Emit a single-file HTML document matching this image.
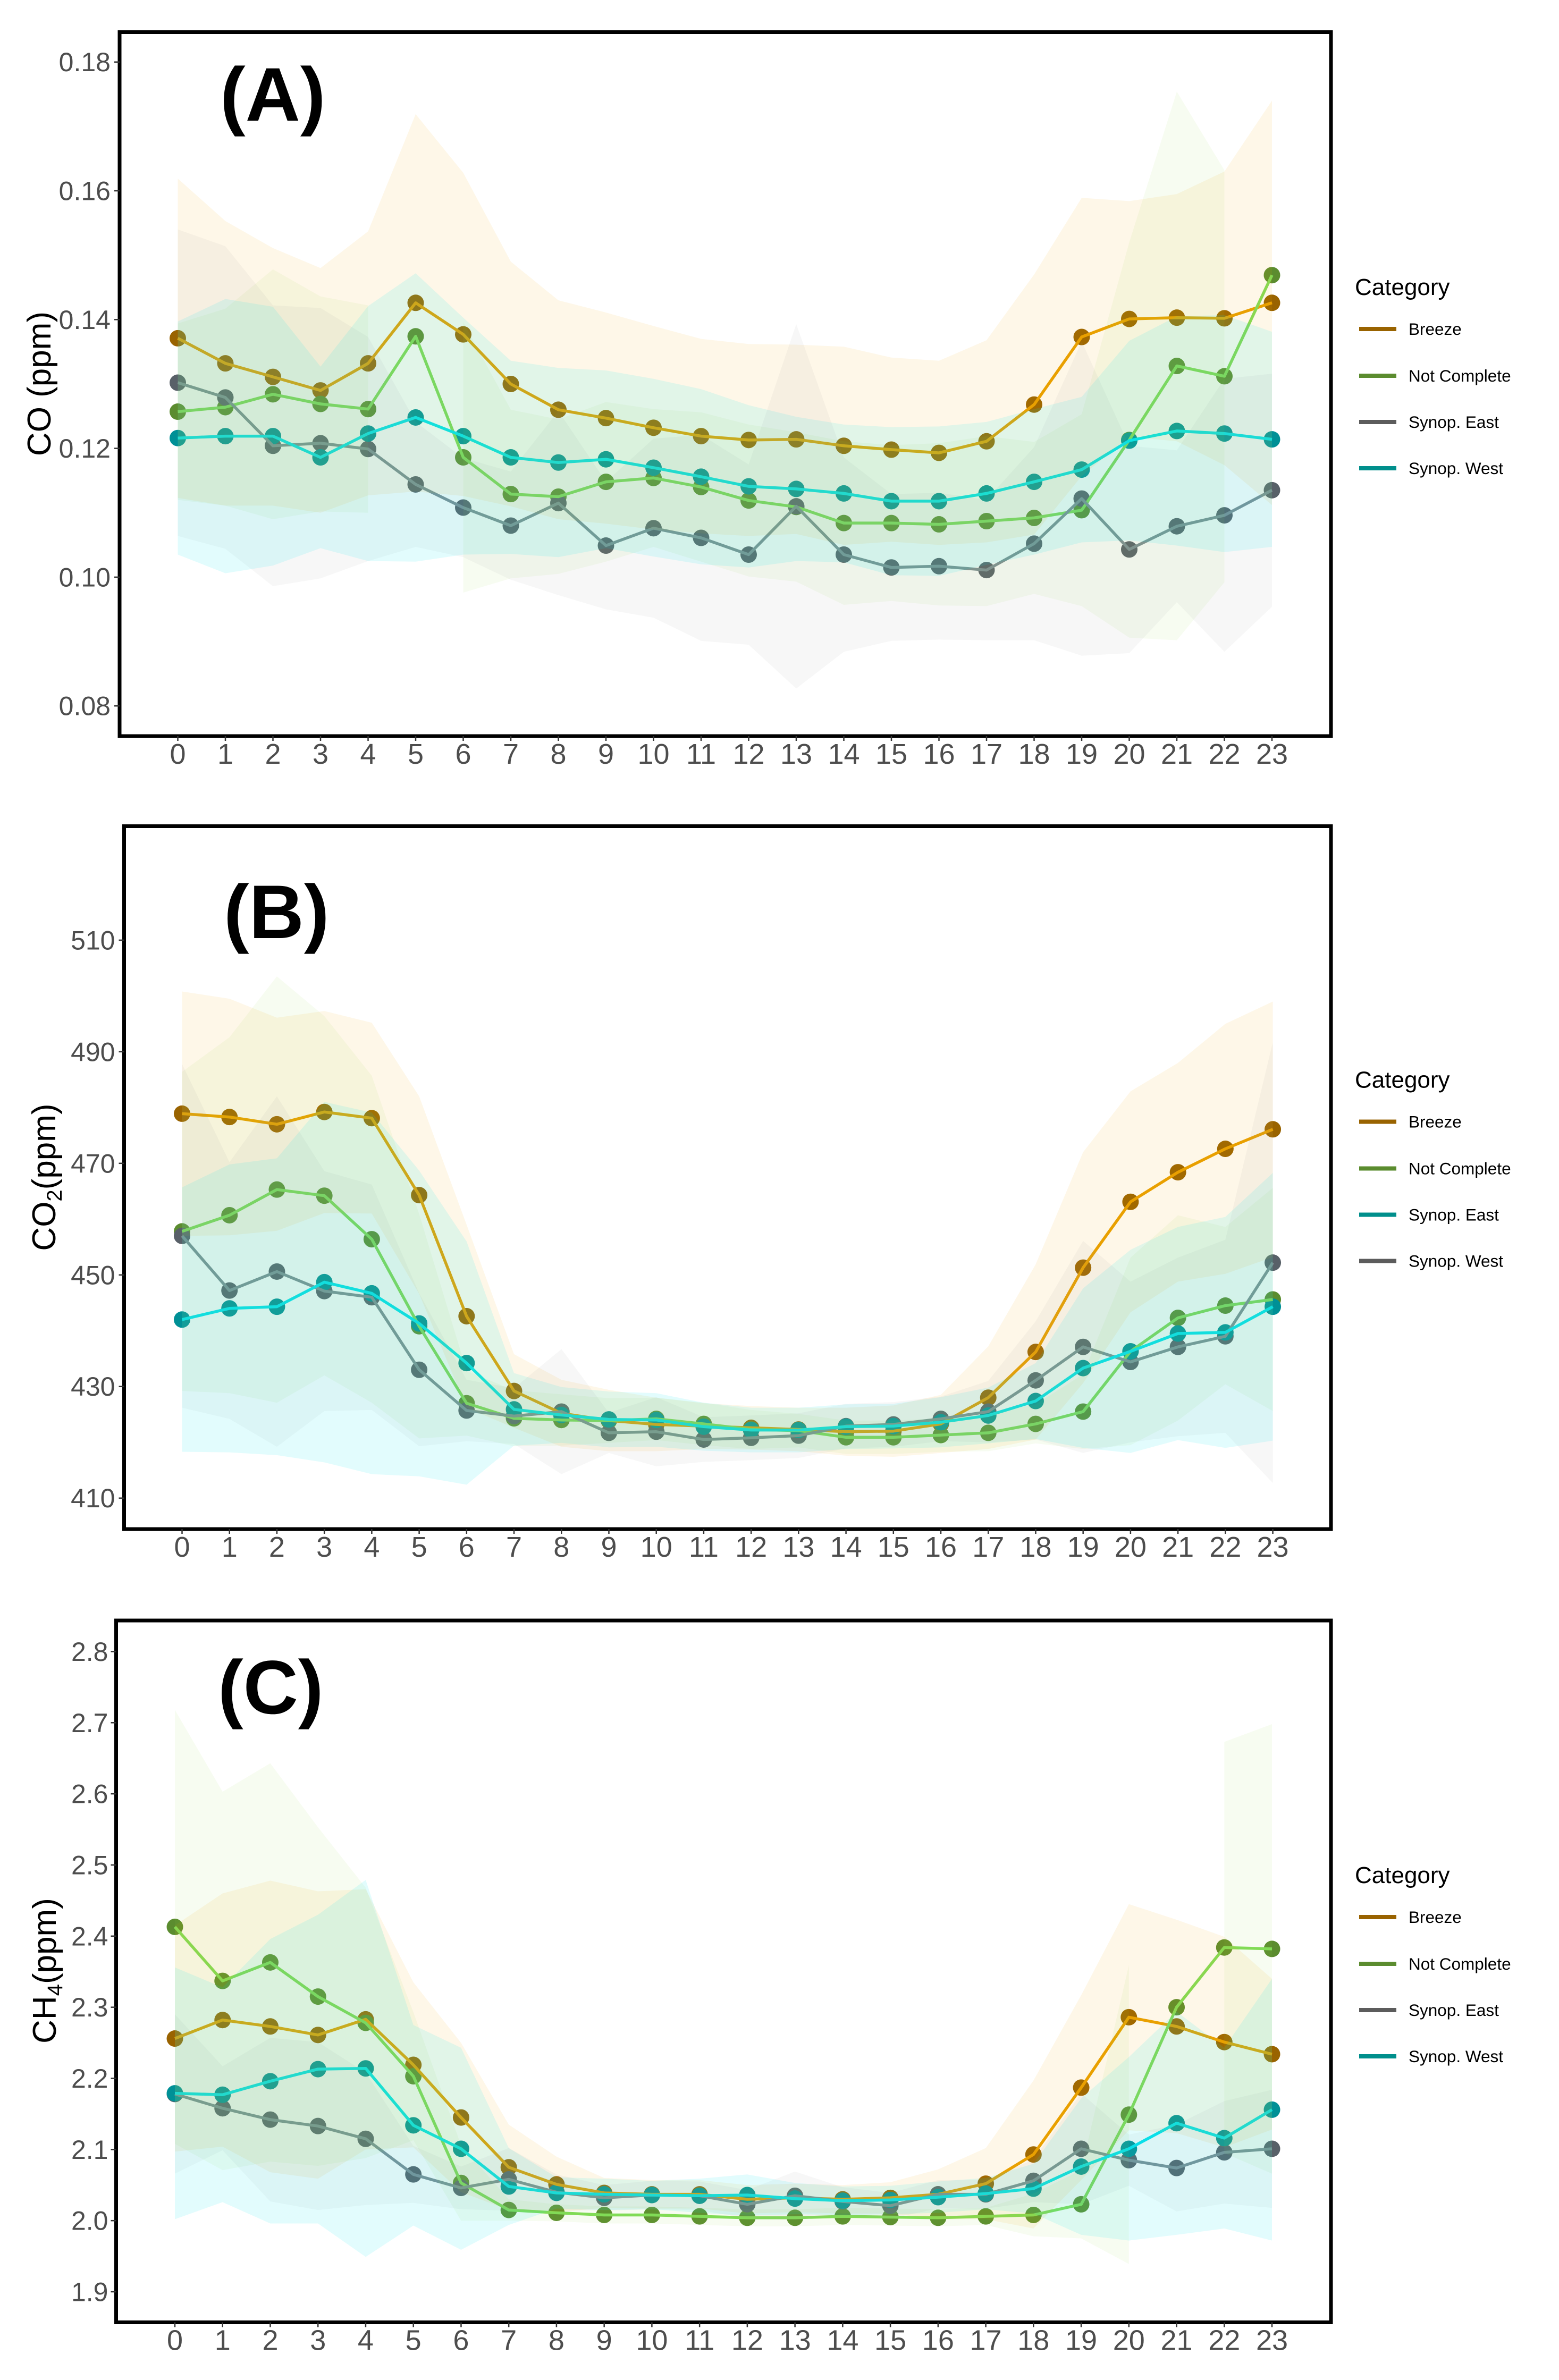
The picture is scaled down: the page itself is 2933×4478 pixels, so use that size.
<!DOCTYPE html>
<html lang="en">
<head>
<meta charset="utf-8">
<title>Diurnal CO, CO2 and CH4 by category</title>
<style>
html,body{margin:0;padding:0;background:#fff;}
svg{display:block;font-family:"Liberation Sans",sans-serif;}
</style>
</head>
<body>
<svg id="figure" xmlns="http://www.w3.org/2000/svg" width="2933" height="4478" viewBox="0 0 2933 4478">
  <rect width="2933" height="4478" fill="#ffffff"/>
  <g id="panel-a"></g>
  <g id="panel-b"></g>
  <g id="panel-c"></g>

  <text x="414" y="227" font-size="143" font-weight="bold" fill="#000">(A)</text>
  <text x="421" y="1765" font-size="143" font-weight="bold" fill="#000">(B)</text>
  <text x="410" y="3224" font-size="143" font-weight="bold" fill="#000">(C)</text>

  <text transform="translate(95 722) rotate(-90)" text-anchor="middle" font-size="62" fill="#000">CO (ppm)</text>
  <text transform="translate(104 2215) rotate(-90)" text-anchor="middle" font-size="62" fill="#000">CO<tspan font-size="40" dy="12">2</tspan><tspan dy="-12">(ppm)</tspan></text>
  <text transform="translate(105 3708) rotate(-90)" text-anchor="middle" font-size="62" fill="#000">CH<tspan font-size="40" dy="12">4</tspan><tspan dy="-12">(ppm)</tspan></text>

  <g>
    <text x="2549" y="555" font-size="44" fill="#000">Category</text>
    <rect x="2557" y="615" width="70" height="8" fill="#996300"/>
    <text x="2650" y="630" font-size="31.5" fill="#000">Breeze</text>
    <rect x="2557" y="703" width="70" height="8" fill="#5b8c2f"/>
    <text x="2650" y="718" font-size="31.5" fill="#000">Not Complete</text>
    <rect x="2557" y="790" width="70" height="8" fill="#5c5c5c"/>
    <text x="2650" y="805" font-size="31.5" fill="#000">Synop. East</text>
    <rect x="2557" y="877" width="70" height="8" fill="#008f8c"/>
    <text x="2650" y="892" font-size="31.5" fill="#000">Synop. West</text>
  </g>
  <g transform="translate(0 1491.5)">
    <text x="2549" y="555" font-size="44" fill="#000">Category</text>
    <rect x="2557" y="615" width="70" height="8" fill="#996300"/>
    <text x="2650" y="630" font-size="31.5" fill="#000">Breeze</text>
    <rect x="2557" y="703" width="70" height="8" fill="#5b8c2f"/>
    <text x="2650" y="718" font-size="31.5" fill="#000">Not Complete</text>
    <rect x="2557" y="790" width="70" height="8" fill="#008f8c"/>
    <text x="2650" y="805" font-size="31.5" fill="#000">Synop. East</text>
    <rect x="2557" y="877" width="70" height="8" fill="#5c5c5c"/>
    <text x="2650" y="892" font-size="31.5" fill="#000">Synop. West</text>
  </g>
  <g transform="translate(0 2988)">
    <text x="2549" y="555" font-size="44" fill="#000">Category</text>
    <rect x="2557" y="615" width="70" height="8" fill="#996300"/>
    <text x="2650" y="630" font-size="31.5" fill="#000">Breeze</text>
    <rect x="2557" y="703" width="70" height="8" fill="#5b8c2f"/>
    <text x="2650" y="718" font-size="31.5" fill="#000">Not Complete</text>
    <rect x="2557" y="790" width="70" height="8" fill="#5c5c5c"/>
    <text x="2650" y="805" font-size="31.5" fill="#000">Synop. East</text>
    <rect x="2557" y="877" width="70" height="8" fill="#008f8c"/>
    <text x="2650" y="892" font-size="31.5" fill="#000">Synop. West</text>
  </g>
</svg>
<script>
const hours = [0,1,2,3,4,5,6,7,8,9,10,11,12,13,14,15,16,17,18,19,20,21,22,23];

// Panel A: CO (ppm), means and half-widths of the shaded bands
const coTicks = ['0.08','0.10','0.12','0.14','0.16','0.18'];
const coBreeze = [.1371,.1332,.1311,.1290,.1332,.1426,.1377,.1300,.1260,.1247,.1232,.1219,.1213,.1214,.1204,.1198,.1193,.1211,.1268,.1373,.1401,.1403,.1402,.1426];
const coBreezeSd = [.0248,.0221,.0200,.0190,.0205,.0293,.0251,.0190,.0170,.0164,.0158,.0151,.0149,.0147,.0154,.0143,.0143,.0157,.0202,.0216,.0183,.0192,.0228,.0314];
const coNotComplete = [.1257,.1264,.1284,.1269,.1261,.1374,.1186,.1129,.1125,.1148,.1154,.1140,.1119,.1109,.1084,.1084,.1082,.1087,.1092,.1104,.1213,.1328,.1312,.1469];
const coNotCompleteSd = [.0137,.0153,.0194,.0167,.0161,null,.0210,.0131,.0120,.0124,.0107,.0116,.0118,.0116,.0127,.0121,.0126,.0132,.0118,.0149,.0307,.0426,.0320,null];
const coEast = [.1302,.1279,.1204,.1208,.1199,.1144,.1108,.1080,.1115,.1049,.1076,.1061,.1035,.1110,.1035,.1015,.1017,.1011,.1052,.1122,.1043,.1079,.1096,.1135];
const coEastSd = [.0238,.0235,.0218,.0210,.0174,.0097,.0077,.0084,.0143,.0099,.0139,.0160,.0140,.0283,.0151,.0114,.0114,.0109,.0150,.0244,.0161,.0118,.0212,.0181];
const coWest = [.1216,.1219,.1219,.1186,.1223,.1248,.1219,.1186,.1178,.1183,.1170,.1156,.1141,.1137,.1130,.1118,.1118,.1130,.1148,.1167,.1212,.1227,.1223,.1214];
const coWestSd = [.0181,.0213,.0201,.0141,.0198,.0224,.0184,.0150,.0147,.0138,.0138,.0136,.0126,.0112,.0107,.0115,.0116,.0111,.0113,.0113,.0155,.0178,.0184,.0167];

// Panel B: CO2 (ppm)
const co2Ticks = ['410','430','450','470','490','510'];
const co2Breeze = [478.9,478.3,477.0,479.2,478.1,464.3,442.6,429.2,425.2,423.9,423.2,422.9,422.6,422.3,421.9,422.0,423.3,428.0,436.2,451.3,463.1,468.4,472.6,476.1];
const co2BreezeSd = [21.9,21.2,19.1,18.1,17.1,17.7,16.4,6.6,6.0,5.5,4.8,4.1,3.9,3.9,4.3,4.6,5.2,9.2,15.7,20.7,19.8,19.6,22.4,22.9];
const co2NotComplete = [457.8,460.7,465.3,464.2,456.4,440.8,427.0,424.3,424.0,423.9,424.2,423.3,422.3,422.1,420.9,420.9,421.3,421.7,423.3,425.5,436.3,442.3,444.5,445.6];
const co2NotCompleteSd = [28.6,31.9,38.2,32.2,29.3,20.1,5.8,5.0,4.6,4.0,3.8,3.8,3.5,3.0,3.0,3.0,3.0,3.3,3.5,6.7,16.8,18.4,14.1,20.0];
const co2West = [457.0,447.2,450.6,447.1,446.0,433.0,425.7,424.7,425.5,421.7,421.9,420.5,420.8,421.2,422.9,423.2,424.2,425.5,431.1,437.1,434.4,437.1,439.0,452.2];
const co2WestSd = [30.8,23.0,31.4,21.5,20.2,13.7,5.5,5.0,11.2,3.6,6.2,4.0,4.0,4.0,4.0,4.0,4.0,5.5,10.6,19.0,14.4,16.0,17.3,39.5];
const co2East = [442.0,444.0,444.3,448.7,446.7,441.3,434.2,425.9,424.9,424.1,424.0,422.8,422.2,422.2,422.8,422.9,423.6,424.8,427.4,433.3,436.3,439.5,439.7,444.3];
const co2EastSd = [23.7,25.8,26.6,32.3,32.4,27.4,21.8,6.5,5.0,5.0,4.8,4.3,4.0,4.0,4.0,4.0,4.5,5.0,6.8,14.3,18.2,19.1,20.7,24.0];

// Panel C: CH4 (ppm)
const ch4Ticks = ['1.9','2.0','2.1','2.2','2.3','2.4','2.5','2.6','2.7','2.8'];
const ch4Breeze = [2.256,2.282,2.273,2.261,2.283,2.219,2.145,2.075,2.051,2.039,2.037,2.037,2.030,2.032,2.030,2.032,2.037,2.052,2.093,2.187,2.286,2.273,2.251,2.234];
const ch4BreezeSd = [.159,.178,.205,.202,.183,.116,.105,.060,.039,.021,.020,.020,.020,.020,.020,.022,.035,.050,.104,.130,.159,.150,.148,.106];
const ch4NotComplete = [2.413,2.337,2.363,2.315,2.278,2.203,2.053,2.015,2.011,2.008,2.008,2.006,2.004,2.004,2.006,2.005,2.004,2.006,2.008,2.023,2.149,2.300,2.384,2.382];
const ch4NotCompleteSd = [.305,.266,.280,.238,.190,.090,.053,.015,.012,.012,.012,.012,.012,.012,.012,.012,.012,.012,.030,.048,.210,null,.289,.316];
const ch4East = [2.178,2.158,2.142,2.133,2.115,2.065,2.046,2.058,2.040,2.032,2.036,2.035,2.023,2.035,2.027,2.021,2.037,2.037,2.056,2.101,2.085,2.074,2.096,2.101];
const ch4EastSd = [.112,.059,.115,.118,.093,.040,.030,.044,.025,.018,.020,.020,.020,.034,.020,.018,.020,.020,.030,.078,.036,.061,.072,.083];
const ch4West = [2.179,2.177,2.196,2.213,2.214,2.134,2.101,2.048,2.039,2.037,2.036,2.035,2.036,2.031,2.028,2.029,2.033,2.038,2.045,2.076,2.101,2.137,2.116,2.156];
const ch4WestSd = [.177,.151,.200,.217,.265,.141,.142,.054,.022,.022,.020,.024,.029,.022,.020,.020,.022,.022,.035,.096,.129,.157,.127,.184];

const STYLE = {
  breeze: {line:'#e8a000', point:'#996300', band:'#f0a800', alpha:.09},
  notComplete: {line:'#80dc58', point:'#5b8c2f', band:'#90dc40', alpha:.075},
  gray: {line:'#7e8e94', point:'#586068', band:'#999999', alpha:.075},
  teal: {line:'#00e6f0', point:'#009096', band:'#00e8f0', alpha:.115}
};
const NS = 'http://www.w3.org/2000/svg';

function make(parent, tag, attrs) {
  const node = document.createElementNS(NS, tag);
  for (const k in attrs) node.setAttribute(k, attrs[k]);
  parent.appendChild(node);
  return node;
}

function drawPanel(cfg) {
  const root = document.getElementById(cfg.id);
  const xOf = h => cfg.x0 + h * cfg.xStep;
  const yOf = v => cfg.yAtLow + (v - cfg.lowVal) * cfg.yPerUnit;

  // marks first; translucent bands lie over them, as in the source figure
  cfg.series.forEach(s => {
    const st = STYLE[s.style];
    s.mean.forEach((v, i) => {
      const dot = make(root, 'circle', {cx: xOf(hours[i]), cy: yOf(v), r: 15.5, fill: st.point});
      
      
    });
  });
  cfg.series.forEach(s => {
    const st = STYLE[s.style];
    const pts = s.mean.map((v, i) => xOf(hours[i]).toFixed(1) + ',' + yOf(v).toFixed(1)).join(' ');
    const line = make(root, 'polyline', {points: pts, fill: 'none', stroke: st.line, 'stroke-width': 5.5, 'stroke-linejoin': 'round'});
    
    
  });
  cfg.series.forEach(s => {
    const st = STYLE[s.style];
    let run = [];
    const flush = () => {
      if (run.length > 1) {
        const up = run.map(i => xOf(hours[i]).toFixed(1) + ',' + yOf(s.mean[i] + s.sd[i]).toFixed(1));
        const lo = run.slice().reverse().map(i => xOf(hours[i]).toFixed(1) + ',' + yOf(s.mean[i] - s.sd[i]).toFixed(1));
        const band = make(root, 'polygon', {points: up.concat(lo).join(' '), fill: st.band, 'fill-opacity': st.alpha});
        
        
      }
      run = [];
    };
    s.sd.forEach((d, i) => { if (d === null) flush(); else run.push(i); });
    flush();
  });

  // frame
  const frame = make(root, 'rect', {x: cfg.left, y: cfg.top, width: cfg.right - cfg.left, height: cfg.bottom - cfg.top, fill: 'none', stroke: '#000', 'stroke-width': 7});
  
  

  // y axis
  cfg.ticks.forEach(t => {
    const y = yOf(parseFloat(t));
    const tick = make(root, 'line', {x1: cfg.left - 10, x2: cfg.left, y1: y, y2: y, stroke: '#333', 'stroke-width': 2.5});
    
    
    const label = make(root, 'text', {x: cfg.left - cfg.labelGap, y: y + 17.5, 'text-anchor': 'end', 'font-size': 50, fill: '#4d4d4d'});
    
    
    label.textContent = t;
  });

  // x axis
  hours.forEach(h => {
    const x = xOf(h);
    const tick = make(root, 'line', {x1: x, x2: x, y1: cfg.bottom, y2: cfg.bottom + 9, stroke: '#333', 'stroke-width': 2.5});
    
    
    const label = make(root, 'text', {x: x, y: cfg.bottom + 52, 'text-anchor': 'middle', 'font-size': 54, fill: '#4d4d4d'});
    
    
    label.textContent = String(h);
  });
}

drawPanel({
  id: 'panel-a', left: 225, right: 2504, top: 60.5, bottom: 1385,
  x0: 334.5, xStep: 89.5, lowVal: 0.08, yAtLow: 1328.2, yPerUnit: -12115, labelGap: 17, ticks: coTicks,
  series: [
    {name: 'breeze', style: 'breeze', mean: coBreeze, sd: coBreezeSd},
    {name: 'not-complete', style: 'notComplete', mean: coNotComplete, sd: coNotCompleteSd},
    {name: 'synop-east', style: 'gray', mean: coEast, sd: coEastSd},
    {name: 'synop-west', style: 'teal', mean: coWest, sd: coWestSd}
  ]
});
drawPanel({
  id: 'panel-b', left: 233.5, right: 2504, top: 1554.5, bottom: 2877,
  x0: 342.5, xStep: 89.22, lowVal: 410, yAtLow: 2818.7, yPerUnit: -10.498, labelGap: 17, ticks: co2Ticks,
  series: [
    {name: 'breeze', style: 'breeze', mean: co2Breeze, sd: co2BreezeSd},
    {name: 'not-complete', style: 'notComplete', mean: co2NotComplete, sd: co2NotCompleteSd},
    {name: 'synop-west', style: 'gray', mean: co2West, sd: co2WestSd},
    {name: 'synop-east', style: 'teal', mean: co2East, sd: co2EastSd}
  ]
});
drawPanel({
  id: 'panel-c', left: 218.5, right: 2504, top: 3049, bottom: 4369.5,
  x0: 329, xStep: 89.74, lowVal: 1.9, yAtLow: 4312, yPerUnit: -1338.4, labelGap: 15, ticks: ch4Ticks,
  series: [
    {name: 'breeze', style: 'breeze', mean: ch4Breeze, sd: ch4BreezeSd},
    {name: 'not-complete', style: 'notComplete', mean: ch4NotComplete, sd: ch4NotCompleteSd},
    {name: 'synop-east', style: 'gray', mean: ch4East, sd: ch4EastSd},
    {name: 'synop-west', style: 'teal', mean: ch4West, sd: ch4WestSd}
  ]
});
</script>
</body>
</html>
